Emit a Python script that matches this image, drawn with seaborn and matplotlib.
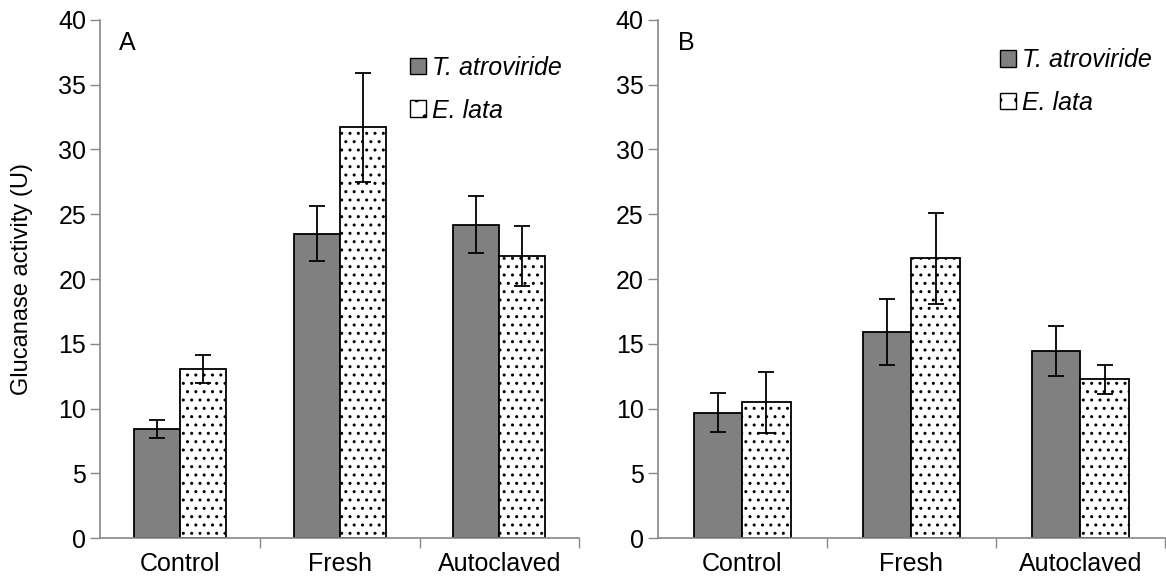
import numpy as np
import pandas as pd
import matplotlib
matplotlib.use("Agg")
import matplotlib.pyplot as plt
import seaborn as sns

treatments = ["Control", "Fresh", "Autoclaved"]
species = ["T. atroviride", "E. lata"]

# panel A
a_tatro = [8.4, 23.5, 24.2]
a_tatro_err = [0.7, 2.1, 2.2]
a_elata = [13.05, 31.7, 21.8]
a_elata_err = [1.1, 4.2, 2.3]

# panel B
b_tatro = [9.7, 15.9, 14.45]
b_tatro_err = [1.5, 2.55, 1.95]
b_elata = [10.5, 21.6, 12.25]
b_elata_err = [2.35, 3.5, 1.1]

sns.set_theme(style="white")
plt.rcParams['font.family'] = ['Liberation Sans', 'DejaVu Sans']
plt.rcParams['text.color'] = 'black'
plt.rcParams['xtick.labelcolor'] = 'black'
plt.rcParams['ytick.labelcolor'] = 'black'
plt.rcParams['axes.labelcolor'] = 'black'
plt.rcParams['hatch.linewidth'] = 1.0
plt.rcParams['hatch.color'] = '#555555'

fig = plt.figure(figsize=(11.66, 5.85), dpi=100)
ax_a = fig.add_axes([0.0858, 0.080, 0.411, 0.886])
ax_b = fig.add_axes([0.564, 0.080, 0.435, 0.886])


def make_df(t_vals, e_vals):
    rows = []
    for i, tr in enumerate(treatments):
        rows.append((tr, species[0], t_vals[i]))
        rows.append((tr, species[1], e_vals[i]))
    return pd.DataFrame(rows, columns=["Treatment", "Species", "Activity"])


def panel(ax, t_vals, t_err, e_vals, e_err, letter, leg_x):
    df = make_df(t_vals, e_vals)
    sns.barplot(data=df, x="Treatment", y="Activity", hue="Species",
                order=treatments, hue_order=species,
                palette=["#808080", "white"], errorbar=None,
                width=0.575, edgecolor="black", linewidth=1.3,
                legend=False, ax=ax)
    # patches: first hue level for all categories, then second
    bars = ax.patches[:6]
    for p in bars[3:]:
        p.set_hatch('..')
    errs = list(t_err) + list(e_err)
    for p, e in zip(bars, errs):
        x = p.get_x() + p.get_width() / 2
        ax.errorbar(x, p.get_height(), yerr=e, fmt='none', ecolor='black',
                    elinewidth=1.3, capsize=6, capthick=1.3)

    ax.set_ylim(0, 40)
    ax.set_xlim(-0.5, 2.5)
    ax.set_yticks(range(0, 41, 5))
    ax.tick_params(axis='y', labelsize=18, length=7, width=1, color='#888888',
                   left=True, pad=3)
    ax.set_xticks([0, 1, 2])
    ax.set_xticklabels(treatments)
    ax.tick_params(axis='x', which='major', length=0, labelsize=18, pad=10)
    ax.set_xticks([0.5, 1.5, 2.5], minor=True)
    ax.tick_params(axis='x', which='minor', length=7, width=1,
                   color='#888888', bottom=True)
    for s in ['top', 'right']:
        ax.spines[s].set_visible(False)
    for s in ['left', 'bottom']:
        ax.spines[s].set_color('#888888')
        ax.spines[s].set_linewidth(1.2)
    ax.set_xlabel("")
    ax.text(0.04, 0.955, letter, transform=ax.transAxes, fontsize=18,
            va='center', ha='left')

    handles = [matplotlib.patches.Patch(facecolor="#808080", edgecolor="black"),
               matplotlib.patches.Patch(facecolor="white", edgecolor="black",
                                        hatch='.')]
    leg = ax.legend(handles, species, loc='upper left',
                    bbox_to_anchor=(leg_x, y_leg[letter]), frameon=False,
                    fontsize=18, handlelength=0.65, handleheight=0.65,
                    handletextpad=0.25, labelspacing=0.75, borderaxespad=0)
    for t in leg.get_texts():
        t.set_fontstyle('italic')


y_leg = {"A": 0.95, "B": 0.965}
panel(ax_a, a_tatro, a_tatro_err, a_elata, a_elata_err, "A", 0.625)
panel(ax_b, b_tatro, b_tatro_err, b_elata, b_elata_err, "B", 0.655)
ax_a.set_ylabel("Glucanase activity (U)", fontsize=17, labelpad=18)
ax_b.set_ylabel("")

fig.savefig("out.png", dpi=100)
